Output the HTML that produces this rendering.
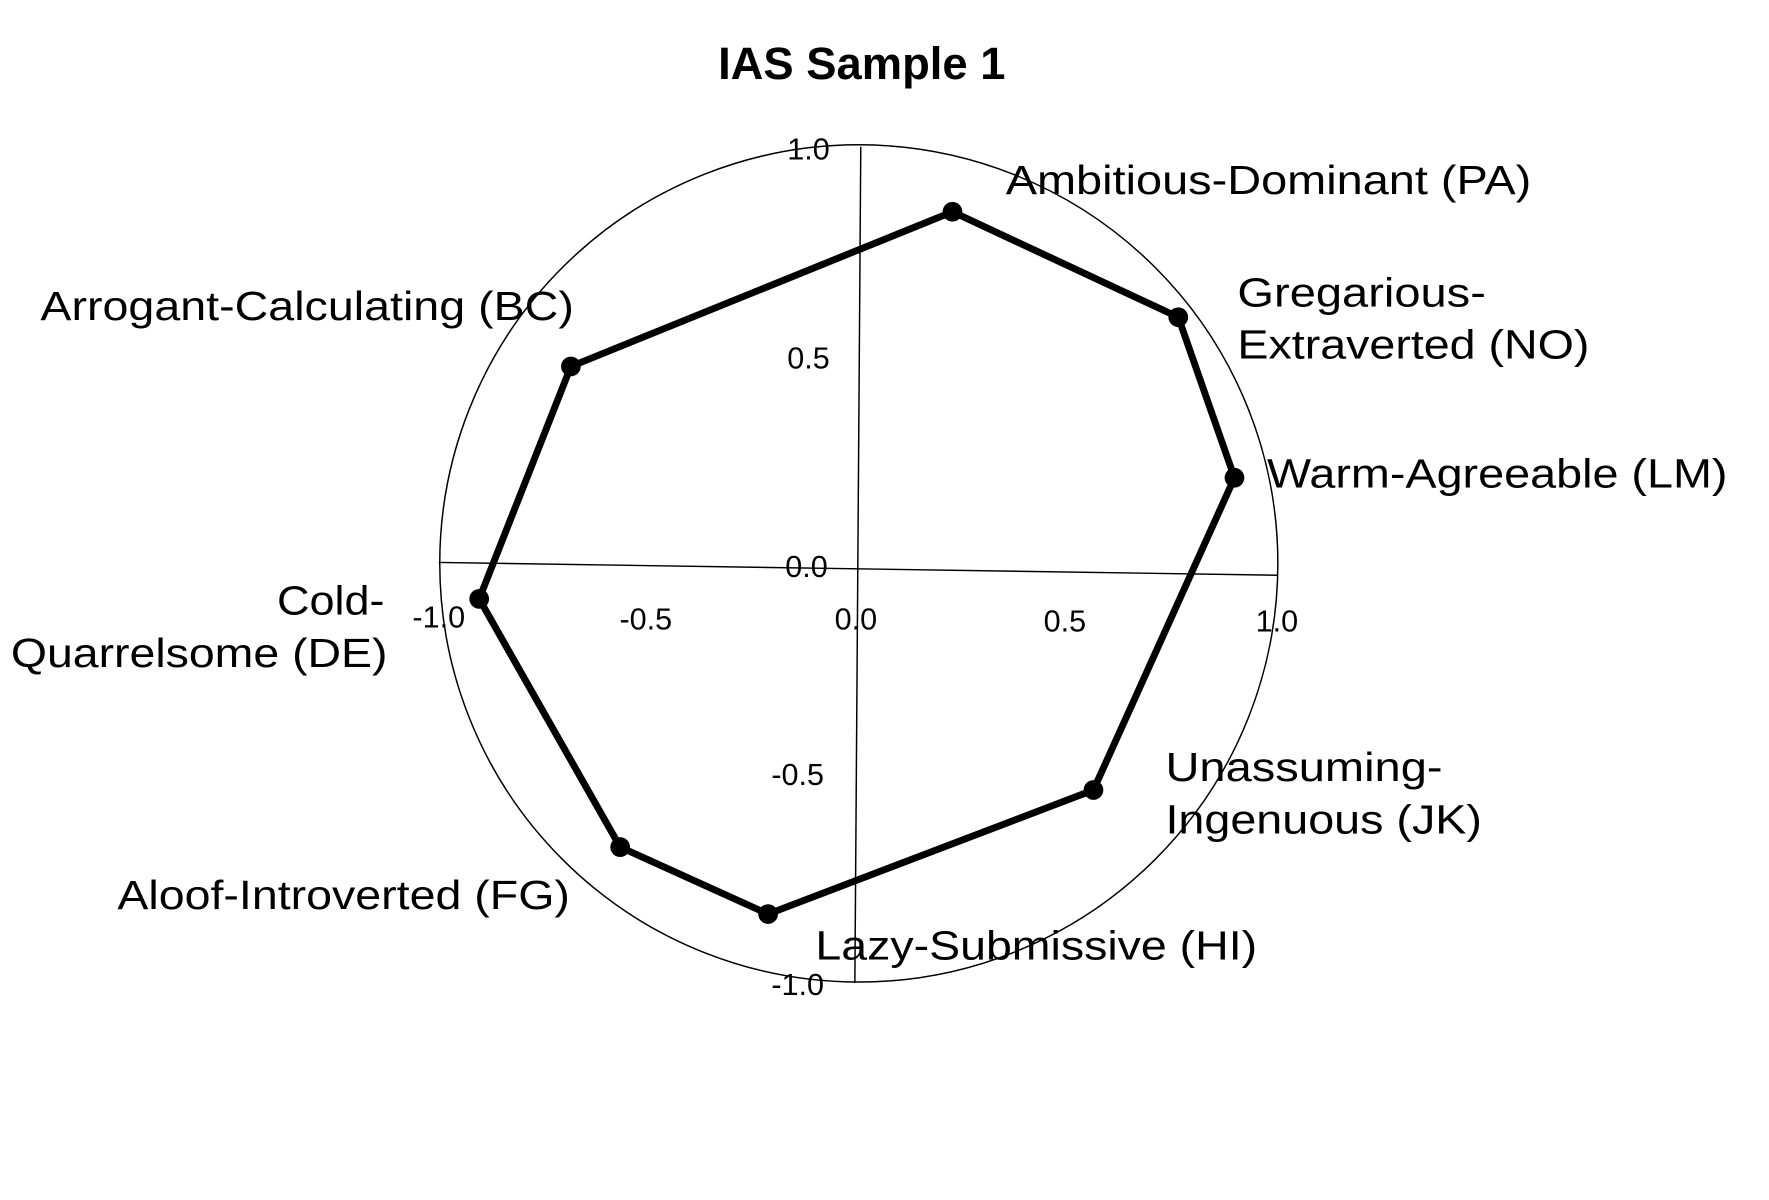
<!DOCTYPE html>
<html><head><meta charset="utf-8"><style>html,body{margin:0;padding:0;background:#fff}svg{display:block}</style></head>
<body>
<svg width="1769" height="1200" viewBox="0 0 1769 1200" xmlns="http://www.w3.org/2000/svg" font-family="Liberation Sans, Arial, sans-serif">
<rect width="1769" height="1200" fill="#fff"/>
<g transform="scale(0.986,0.985)">
<text x="874" y="80" font-size="46" font-weight="bold" text-anchor="middle">IAS Sample 1</text>
<circle cx="871" cy="572" r="425" fill="none" stroke="#000" stroke-width="1.5"/>
<line x1="445" y1="571" x2="1296" y2="584" stroke="#000" stroke-width="1.5"/>
<line x1="873" y1="149" x2="867" y2="998" stroke="#000" stroke-width="1.5"/>
<g font-size="31" fill="#000">
<text x="820" y="162" text-anchor="middle">1.0</text>
<text x="820" y="374" text-anchor="middle">0.5</text>
<text x="818" y="586" text-anchor="middle">0.0</text>
<text x="809" y="797" text-anchor="middle">-0.5</text>
<text x="809" y="1010" text-anchor="middle">-1.0</text>
<text x="445" y="637" text-anchor="middle">-1.0</text>
<text x="655" y="639" text-anchor="middle">-0.5</text>
<text x="868" y="639" text-anchor="middle">0.0</text>
<text x="1080" y="641" text-anchor="middle">0.5</text>
<text x="1295" y="641" text-anchor="middle">1.0</text>
</g>
<polygon points="966,215 1195,322 1252,485 1109,802 779,928 629,860 486,608 579,372" fill="none" stroke="#000" stroke-width="7" stroke-linejoin="round"/>
<g fill="#000">
<circle cx="966" cy="215" r="10"/><circle cx="1195" cy="322" r="10"/><circle cx="1252" cy="485" r="10"/><circle cx="1109" cy="802" r="10"/><circle cx="779" cy="928" r="10"/><circle cx="629" cy="860" r="10"/><circle cx="486" cy="608" r="10"/><circle cx="579" cy="372" r="10"/>
</g>
<g font-size="41" fill="#000">
<text x="1020" y="197" textLength="533" lengthAdjust="spacingAndGlyphs">Ambitious-Dominant (PA)</text>
<text x="1255" y="311" textLength="252" lengthAdjust="spacingAndGlyphs">Gregarious-</text>
<text x="1255" y="364" textLength="357" lengthAdjust="spacingAndGlyphs">Extraverted (NO)</text>
<text x="1285" y="495" textLength="467" lengthAdjust="spacingAndGlyphs">Warm-Agreeable (LM)</text>
<text x="41" y="325" textLength="541" lengthAdjust="spacingAndGlyphs">Arrogant-Calculating (BC)</text>
<text x="281" y="624" textLength="109" lengthAdjust="spacingAndGlyphs">Cold-</text>
<text x="11" y="677" textLength="382" lengthAdjust="spacingAndGlyphs">Quarrelsome (DE)</text>
<text x="1182" y="793" textLength="281" lengthAdjust="spacingAndGlyphs">Unassuming-</text>
<text x="1182" y="846" textLength="321" lengthAdjust="spacingAndGlyphs">Ingenuous (JK)</text>
<text x="119" y="923" textLength="459" lengthAdjust="spacingAndGlyphs">Aloof-Introverted (FG)</text>
<text x="827" y="974" textLength="448" lengthAdjust="spacingAndGlyphs">Lazy-Submissive (HI)</text>
</g>
</g>
</svg>
</body></html>
